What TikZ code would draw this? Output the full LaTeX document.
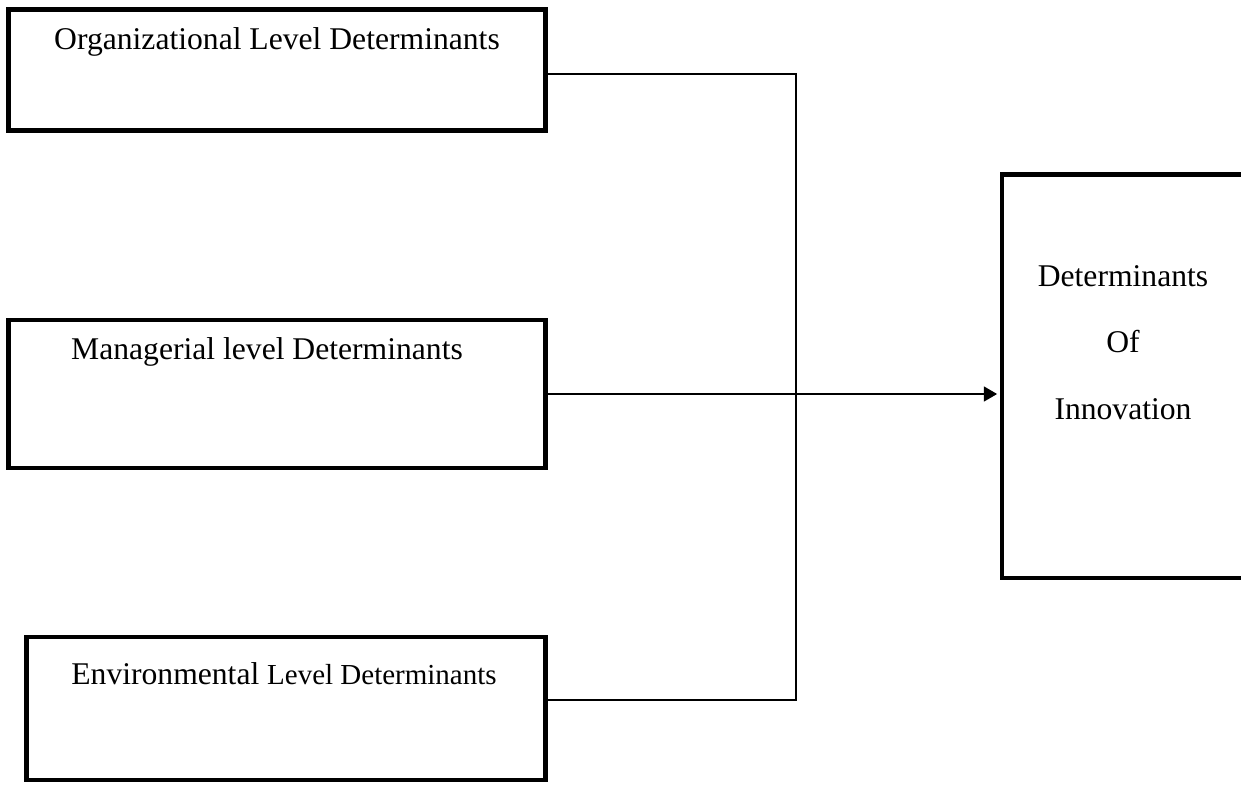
\documentclass[tikz,border=0pt]{standalone}
\usepackage{fontspec}
\setmainfont{Liberation Serif}
\usetikzlibrary{arrows.meta}
\begin{document}
\begin{tikzpicture}[x=0.02cm, y=-0.02cm, line width=0.8pt, level box/.style={rectangle,draw,line width=2.8pt,inner sep=0pt}]
\useasboundingbox (0,0) rectangle (1241,785);
\begin{scope}[every label/.style={font=\fontsize{18}{38}\selectfont,anchor=center,align=center,inner sep=0pt}]
\node [level box,minimum width=10.76cm,minimum height=2.42cm,label={[yshift=-0.7cm]north:Organizational Level Determinants}](org) at (277,70) {};
\node [level box,minimum width=10.76cm,minimum height=2.96cm,label={[xshift=-0.2cm,yshift=-0.68cm]north:Managerial level Determinants}](man) at (277,394) {};
\node [level box,minimum width=10.4cm,minimum height=2.86cm,label={[xshift=-0.04cm,yshift=-0.78cm]north:Environmental {\fontsize{16.5}{20}\selectfont Level Determinants}}](env) at (286,708.5) {};
\node [level box,minimum width=4.96cm,minimum height=8.08cm,label={[xshift=-0.06cm,yshift=-3.42cm]north:Determinants\\Of\\Innovation}](inn) at (1126,376) {};
\end{scope}
\coordinate (bus) at (796,0);
\coordinate (orgout) at ([yshift=-0.08cm]org.east);
\coordinate (envout) at ([yshift=0.17cm]env.east);
\draw (orgout) -- (orgout -| bus) -- (envout -| bus) -- (envout);
\draw [-{Triangle[length=7.5pt,width=8.5pt]},shorten >=1.4pt] (man.east) -- (man.east -| inn.west);
\end{tikzpicture}
\end{document}
